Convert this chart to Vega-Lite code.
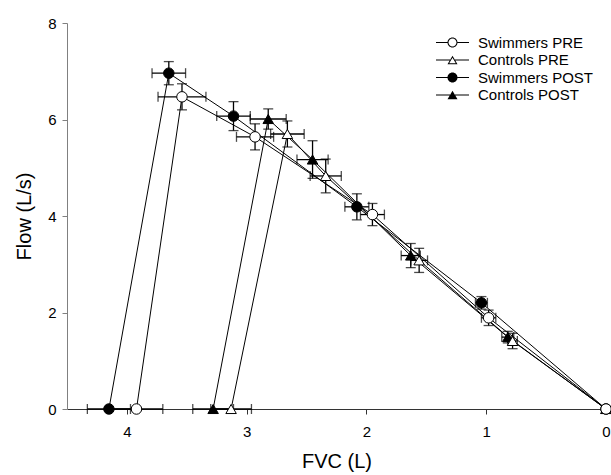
{
  "$schema": "https://vega.github.io/schema/vega-lite/v6.json",
  "width": 539,
  "height": 386,
  "autosize": "none",
  "padding": {"left": 67, "top": 23, "right": 5, "bottom": 66},
  "background": "white",
  "config": {
    "view": {"stroke": null},
    "font": "Liberation Sans",
    "axis": {"grid": false, "labelFont": "Liberation Sans", "titleFont": "Liberation Sans", "labelColor": "black", "titleColor": "black", "titleFontWeight": "normal", "labelFontSize": 15, "titleFontSize": 20, "tickSize": 5, "labelFlush": false}
  },
  "data": {
    "values": [
      {"series": "Controls POST", "group": "Controls", "phase": "POST", "ord": 1, "fvc": 3.28, "flow": 0, "fvcErr": 0.17, "flowErr": 0},
      {"series": "Controls POST", "group": "Controls", "phase": "POST", "ord": 2, "fvc": 2.82, "flow": 6.01, "fvcErr": 0.15, "flowErr": 0.21},
      {"series": "Controls POST", "group": "Controls", "phase": "POST", "ord": 3, "fvc": 2.45, "flow": 5.17, "fvcErr": 0.13, "flowErr": 0.39},
      {"series": "Controls POST", "group": "Controls", "phase": "POST", "ord": 4, "fvc": 1.63, "flow": 3.18, "fvcErr": 0.08, "flowErr": 0.25},
      {"series": "Controls POST", "group": "Controls", "phase": "POST", "ord": 5, "fvc": 0.82, "flow": 1.49, "fvcErr": 0.05, "flowErr": 0.12},
      {"series": "Controls POST", "group": "Controls", "phase": "POST", "ord": 6, "fvc": 0, "flow": 0, "fvcErr": 0, "flowErr": 0},
      {"series": "Swimmers POST", "group": "Swimmers", "phase": "POST", "ord": 1, "fvc": 4.15, "flow": 0, "fvcErr": 0.18, "flowErr": 0},
      {"series": "Swimmers POST", "group": "Swimmers", "phase": "POST", "ord": 2, "fvc": 3.65, "flow": 6.96, "fvcErr": 0.14, "flowErr": 0.24},
      {"series": "Swimmers POST", "group": "Swimmers", "phase": "POST", "ord": 3, "fvc": 3.11, "flow": 6.07, "fvcErr": 0.14, "flowErr": 0.3},
      {"series": "Swimmers POST", "group": "Swimmers", "phase": "POST", "ord": 4, "fvc": 2.08, "flow": 4.19, "fvcErr": 0.1, "flowErr": 0.27},
      {"series": "Swimmers POST", "group": "Swimmers", "phase": "POST", "ord": 5, "fvc": 1.04, "flow": 2.2, "fvcErr": 0.05, "flowErr": 0.13},
      {"series": "Swimmers POST", "group": "Swimmers", "phase": "POST", "ord": 6, "fvc": 0, "flow": 0, "fvcErr": 0, "flowErr": 0},
      {"series": "Controls PRE", "group": "Controls", "phase": "PRE", "ord": 1, "fvc": 3.13, "flow": 0, "fvcErr": 0.17, "flowErr": 0},
      {"series": "Controls PRE", "group": "Controls", "phase": "PRE", "ord": 2, "fvc": 2.66, "flow": 5.7, "fvcErr": 0.14, "flowErr": 0.27},
      {"series": "Controls PRE", "group": "Controls", "phase": "PRE", "ord": 3, "fvc": 2.34, "flow": 4.83, "fvcErr": 0.13, "flowErr": 0.35},
      {"series": "Controls PRE", "group": "Controls", "phase": "PRE", "ord": 4, "fvc": 1.56, "flow": 3.08, "fvcErr": 0.07, "flowErr": 0.25},
      {"series": "Controls PRE", "group": "Controls", "phase": "PRE", "ord": 5, "fvc": 0.78, "flow": 1.41, "fvcErr": 0.04, "flowErr": 0.16},
      {"series": "Controls PRE", "group": "Controls", "phase": "PRE", "ord": 6, "fvc": 0, "flow": 0, "fvcErr": 0, "flowErr": 0},
      {"series": "Swimmers PRE", "group": "Swimmers", "phase": "PRE", "ord": 1, "fvc": 3.92, "flow": 0, "fvcErr": 0.22, "flowErr": 0},
      {"series": "Swimmers PRE", "group": "Swimmers", "phase": "PRE", "ord": 2, "fvc": 3.54, "flow": 6.47, "fvcErr": 0.2, "flowErr": 0.27},
      {"series": "Swimmers PRE", "group": "Swimmers", "phase": "PRE", "ord": 3, "fvc": 2.93, "flow": 5.64, "fvcErr": 0.155, "flowErr": 0.27},
      {"series": "Swimmers PRE", "group": "Swimmers", "phase": "PRE", "ord": 4, "fvc": 1.95, "flow": 4.03, "fvcErr": 0.1, "flowErr": 0.23},
      {"series": "Swimmers PRE", "group": "Swimmers", "phase": "PRE", "ord": 5, "fvc": 0.98, "flow": 1.89, "fvcErr": 0.06, "flowErr": 0.16},
      {"series": "Swimmers PRE", "group": "Swimmers", "phase": "PRE", "ord": 6, "fvc": 0, "flow": 0, "fvcErr": 0, "flowErr": 0}
    ]
  },
  "layer": [
    {
      "mark": {"type": "point", "filled": true, "color": "black", "strokeWidth": 0, "size": 0},
      "encoding": {
        "x": {"field": "fvc", "type": "quantitative", "title": "FVC (L)", "scale": {"domain": [0, 4.5], "reverse": true, "nice": false, "zero": false},
          "axis": {"values": [0, 1, 2, 3, 4], "format": "d", "domainColor": "#333", "tickColor": "#333", "labelPadding": 10, "titlePadding": 12}},
        "y": {"field": "flow", "type": "quantitative", "title": "Flow (L/s)", "scale": {"domain": [0, 8], "nice": false},
          "axis": {"values": [0, 2, 4, 6, 8], "format": "d", "domainColor": "#808080", "tickColor": "#808080", "labelPadding": 6, "titlePadding": 13}},
        "shape": {"field": "series", "type": "nominal",
          "scale": {"domain": ["Swimmers PRE", "Controls PRE", "Swimmers POST", "Controls POST"],
            "range": [
              "M-3.3,-0.1H-1V0.1H-3.3Z M1,-0.1H3.3V0.1H1Z M0,-1A1,1 0 1,1 0,1A1,1 0 1,1 0,-1Z M0,-0.8A0.8,0.8 0 1,0 0,0.8A0.8,0.8 0 1,0 0,-0.8Z",
              "M-3.3,-0.1H-0.5V0.1H-3.3Z M0.5,-0.1H3.3V0.1H0.5Z M0,-0.866L1,0.866L-1,0.866Z M0,-0.465L-0.653,0.666L0.653,0.666Z",
              "M-3.3,-0.1H-1V0.1H-3.3Z M1,-0.1H3.3V0.1H1Z M0,-1A1,1 0 1,1 0,1A1,1 0 1,1 0,-1Z",
              "M-3.3,-0.1H-0.5V0.1H-3.3Z M0.5,-0.1H3.3V0.1H0.5Z M0,-0.866L1,0.866L-1,0.866Z"
            ]},
          "legend": {"title": null, "orient": "none", "legendX": 378, "legendY": 12, "padding": 0, "labelFont": "Liberation Sans", "labelFontSize": 15, "labelColor": "black", "symbolSize": 100, "labelOffset": 18, "rowPadding": 1.5, "symbolOpacity": 1, "symbolFillColor": "black", "symbolStrokeWidth": 0}
        }
      }
    },
    {
      "mark": {"type": "line", "color": "black", "strokeWidth": 1},
      "encoding": {
        "x": {"field": "fvc", "type": "quantitative", "title": "FVC (L)"},
        "y": {"field": "flow", "type": "quantitative", "title": "Flow (L/s)"},
        "detail": {"field": "series"},
        "order": {"field": "ord"}
      }
    },
    {
      "transform": [{"filter": "datum.fvcErr > 0"}],
      "mark": {"type": "errorbar", "color": "black", "thickness": 1.3, "ticks": {"size": 10}},
      "encoding": {
        "x": {"field": "fvc", "type": "quantitative", "title": "FVC (L)"},
        "xError": {"field": "fvcErr"},
        "y": {"field": "flow", "type": "quantitative", "title": "Flow (L/s)"}
      }
    },
    {
      "transform": [{"filter": "datum.flowErr > 0"}],
      "mark": {"type": "errorbar", "color": "black", "thickness": 1.3, "ticks": {"size": 10}},
      "encoding": {
        "x": {"field": "fvc", "type": "quantitative", "title": "FVC (L)"},
        "y": {"field": "flow", "type": "quantitative", "title": "Flow (L/s)"},
        "yError": {"field": "flowErr"}
      }
    },
    {
      "transform": [{"filter": "datum.group === 'Controls'"}],
      "mark": {"type": "point", "shape": "triangle-up", "filled": true, "stroke": "black", "strokeWidth": 1, "size": 110, "opacity": 1},
      "encoding": {
        "x": {"field": "fvc", "type": "quantitative", "title": "FVC (L)"},
        "y": {"field": "flow", "type": "quantitative", "title": "Flow (L/s)"},
        "fill": {"field": "phase", "type": "nominal", "legend": null,
          "scale": {"domain": ["PRE", "POST"], "range": ["white", "black"]}}
      }
    },
    {
      "transform": [{"filter": "datum.group === 'Swimmers'"}],
      "mark": {"type": "point", "shape": "circle", "filled": true, "stroke": "black", "strokeWidth": 1, "size": 110, "opacity": 1},
      "encoding": {
        "x": {"field": "fvc", "type": "quantitative", "title": "FVC (L)"},
        "y": {"field": "flow", "type": "quantitative", "title": "Flow (L/s)"},
        "fill": {"field": "phase", "type": "nominal", "legend": null,
          "scale": {"domain": ["PRE", "POST"], "range": ["white", "black"]}}
      }
    }
  ]
}
